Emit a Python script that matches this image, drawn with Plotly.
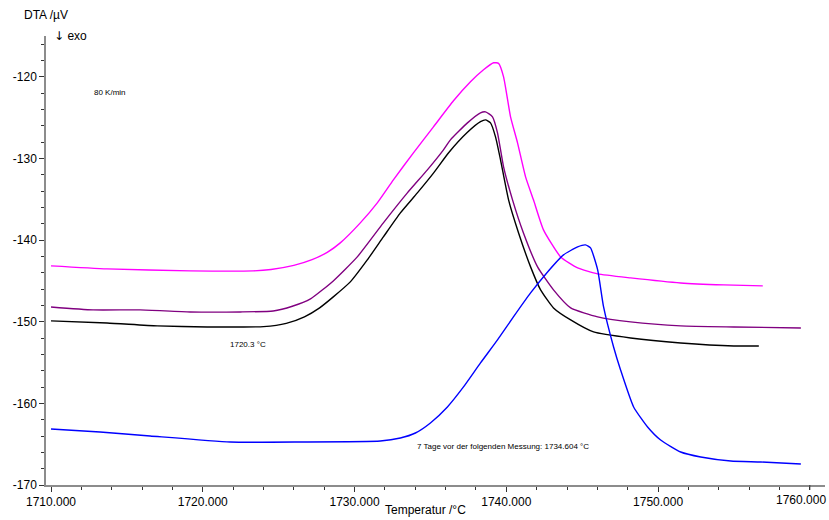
import plotly.graph_objects as go

# --- data ---
magenta_x = [1710.0, 1713.69, 1719.17, 1723.32, 1724.5, 1726.0, 1727.2, 1728.2, 1729.06, 1730.38,
             1731.50, 1732.56, 1733.88, 1735.20, 1736.52, 1737.64, 1738.50, 1739.16, 1739.49, 1739.82,
             1740.28, 1740.74, 1741.27, 1741.79, 1742.45, 1743.58, 1744.70, 1746.02, 1748.19, 1751.49,
             1754.33, 1756.90]
magenta_y = [-143.16, -143.53, -143.77, -143.77, -143.6, -143.1, -142.4, -141.5, -140.34, -137.89,
             -135.44, -132.62, -129.31, -126.13, -122.94, -120.61, -119.14, -118.28, -118.35, -120.0,
             -124.90, -128.09, -132.25, -135.07, -138.75, -142.06, -143.41, -144.14, -144.63, -145.25,
             -145.49, -145.61]

purple_x = [1710.0, 1712.77, 1715.87, 1719.17, 1722.47, 1724.64, 1725.9, 1727.1, 1728.60,
            1730.18, 1731.90, 1733.48, 1734.80, 1735.86, 1736.32, 1737.44, 1738.30, 1738.63, 1739.09,
            1739.42, 1739.82, 1740.41, 1741.13, 1742.06, 1743.11, 1744.24, 1746.02, 1748.19, 1751.49,
            1754.99, 1759.41]
purple_y = [-148.19, -148.55, -148.55, -148.80, -148.80, -148.68, -148.1, -147.2, -145.0,
            -142.06, -137.89, -134.22, -131.40, -128.95, -127.72, -125.64, -124.41, -124.29, -124.90,
            -126.86, -131.03, -135.07, -139.12, -143.28, -146.10, -148.31, -149.41, -150.02, -150.51,
            -150.64, -150.76]

black_x = [1710.0, 1713.69, 1716.99, 1720.29, 1722.47, 1724.0, 1725.5, 1726.7, 1727.7, 1728.60, 1729.72,
           1730.84, 1731.90, 1733.02, 1734.14, 1735.20, 1736.2, 1737.44, 1738.30, 1738.63,
           1738.96, 1739.29, 1739.62, 1740.15, 1740.81, 1741.60, 1742.26, 1743.11, 1744.24, 1745.75,
           1748.19, 1751.49, 1754.99, 1756.64]
black_y = [-149.90, -150.15, -150.51, -150.64, -150.64, -150.6, -150.2, -149.4, -148.3, -146.96, -145.12,
           -142.43, -139.61, -136.67, -134.22, -131.8, -129.3, -126.8, -125.5, -125.27,
           -125.64, -127.35, -130.17, -135.07, -139.12, -143.28, -146.10, -148.31, -149.78, -151.25,
           -151.99, -152.60, -152.97, -152.97]

blue_x = [1710.0, 1713.23, 1716.53, 1721.81, 1726.42, 1731.70, 1733.02, 1734.01, 1735.00, 1736.12,
          1737.18, 1738.30, 1739.42, 1740.47, 1741.60, 1742.72, 1743.77, 1744.70, 1745.22, 1745.55,
          1746.02, 1746.41, 1747.07, 1747.53, 1748.39, 1749.31, 1750.17, 1751.49, 1752.81, 1754.79,
          1756.77, 1759.41]
blue_y = [-163.14, -163.50, -163.99, -164.73, -164.73, -164.61, -164.24, -163.63, -162.40, -160.44,
          -157.99, -155.05, -152.23, -149.41, -146.47, -143.90, -141.81, -140.83, -140.59, -140.96,
          -143.65, -148.19, -153.09, -155.91, -160.44, -162.89, -164.49, -165.96, -166.57, -167.06,
          -167.18, -167.43]

x_ticks = [1710, 1720, 1730, 1740, 1750, 1760]
x_ticktext = ["1710.000", "1720.000", "1730.000", "1740.000", "1750.000", "1760.000"]
y_ticks = [-170, -160, -150, -140, -130, -120]
y_ticktext = ["-170", "-160", "-150", "-140", "-130", "-120"]

FONT = "Liberation Sans, Arial, sans-serif"

fig = go.Figure()
for xs, ys, col in [(magenta_x, magenta_y, "#ff00ff"),
                    (purple_x, purple_y, "#800080"),
                    (black_x, black_y, "#000000"),
                    (blue_x, blue_y, "#0000ff")]:
    fig.add_trace(go.Scatter(x=xs, y=ys, mode="lines",
                             line=dict(color=col, width=1.4, shape="spline", smoothing=0.5),
                             showlegend=False, hoverinfo="skip"))

fig.update_layout(
    width=829, height=520,
    margin=dict(l=46, r=4, t=36, b=35),
    paper_bgcolor="white", plot_bgcolor="white",
    font=dict(family=FONT, size=12, color="black"),
    xaxis=dict(range=[1709.67, 1761.0], tickvals=x_ticks[:-1], ticktext=x_ticktext[:-1],
               showgrid=False, zeroline=False, showline=True, linecolor="#8c8c8c", linewidth=1.5,
               ticks="outside", ticklen=5, tickcolor="#333", tickfont=dict(size=12),
               minor=dict(ticks="outside", ticklen=3, dtick=2, tickcolor="#333")),
    yaxis=dict(range=[-170, -115], tickvals=y_ticks, ticktext=y_ticktext,
               showgrid=False, zeroline=False, showline=True, linecolor="#8c8c8c", linewidth=1.5,
               ticks="outside", ticklen=5, tickcolor="#333", tickfont=dict(size=12),
               minor=dict(ticks="outside", ticklen=3, dtick=2, tickcolor="#333")),
)

# last x tick label (at the right edge), kept fully inside the picture, plus its tick mark
fig.add_annotation(text=x_ticktext[-1], xref="paper", yref="paper", x=1.0, y=0,
                   xanchor="right", yanchor="top", yshift=-6, xshift=3, showarrow=False,
                   font=dict(size=12, family=FONT, color="black"))
fig.add_shape(type="line", xref="x", yref="paper", x0=x_ticks[-1], x1=x_ticks[-1],
              y0=0, y1=-5 / 449, line=dict(color="#333", width=1))

anns = [
    dict(text="DTA /µV", x=22, y=15, size=12),
    dict(text="<span style='font-family:DejaVu Sans'>↓</span> exo", x=52, y=36, size=12),
    dict(text="Temperatur /°C", x=383, y=510, size=12),
    dict(text="80 K/min", x=92, y=92, size=8),
    dict(text="1720.3 °C", x=228, y=344, size=8),
    dict(text="7 Tage vor der folgenden Messung: 1734.604 °C", x=415, y=446, size=8),
]
for a in anns:
    px = (a["x"] - 46) / (829 - 46 - 4)
    py = 1 - (a["y"] - 36) / (520 - 36 - 35)
    fig.add_annotation(text=a["text"], xref="paper", yref="paper", x=px, y=py,
                       xanchor="left", yanchor="middle", showarrow=False,
                       font=dict(size=a["size"], family=FONT, color="black"))

fig.write_html("out.html")
